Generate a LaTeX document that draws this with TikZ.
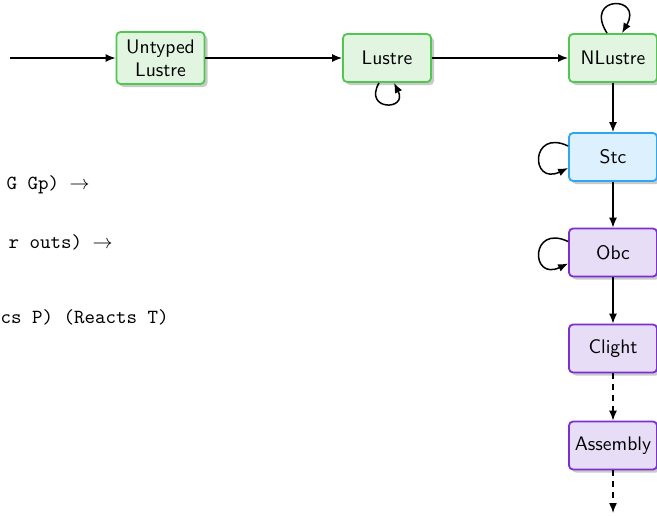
\documentclass[tikz,border=0pt]{standalone}
\usetikzlibrary{arrows.meta,shadows}
\definecolor{gborder}{RGB}{80,200,80}
\definecolor{gfill}{RGB}{225,245,225}
\definecolor{bborder}{RGB}{45,166,245}
\definecolor{bfill}{RGB}{221,240,253}
\definecolor{pborder}{RGB}{123,47,209}
\definecolor{pfill}{RGB}{232,221,247}
\tikzset{
  stagebox/.style={draw, rounded corners=2pt, line width=0.9pt,
    minimum width=44pt, minimum height=24pt, inner sep=2pt,
    align=center, font=\fontsize{9.8}{11.5}\selectfont\sffamily,
    drop shadow={shadow xshift=1.5pt, shadow yshift=-1.5pt, opacity=0.35, fill=black!60}},
  greenbox/.style={stagebox, draw=gborder, fill=gfill},
  bluebox/.style={stagebox, draw=bborder, fill=bfill},
  purplebox/.style={stagebox, draw=pborder, fill=pfill},
  conn/.style={line width=0.75pt, -{Latex[length=5pt,width=4pt]}},
  dconn/.style={conn, dash pattern=on 3pt off 2.5pt},
  codetext/.style={anchor=base east, inner sep=0pt, font=\fontsize{10}{12}\selectfont\ttfamily}
}
\begin{document}
\begin{tikzpicture}[x=0.5pt,y=-0.5pt]
\useasboundingbox (0,0) rectangle (657,515);
\clip (0,0) rectangle (657,515);

\coordinate (in) at (10,58);
\coordinate (out) at (613,513);

\node[greenbox, minimum height=26pt] (ul) at (160.5,58) {Untyped\\Lustre};
\node[greenbox] (lu) at (387,58) {Lustre};
\node[greenbox] (nl) at (613,58) {NLustre};
\node[bluebox] (stc) at (613,157) {Stc};
\node[purplebox] (obc) at (613,252.5) {Obc};
\node[purplebox] (cl) at (613,348.5) {Clight};
\node[purplebox] (as) at (613,445.5) {Assembly};

\node[codetext] (t1) at (90,189) {G Gp) $\to$};
\node[codetext] (t2) at (113,248) {r outs) $\to$};
\node[codetext] (t3) at (169,323) {cs P) (Reacts T)};

\draw[conn] (in) -- (ul);
\draw[conn] (ul) -- (lu);
\draw[conn] (lu) -- (nl);
\draw[conn] (nl) -- (stc);
\draw[conn] (stc) -- (obc);
\draw[conn] (obc) -- (cl);
\draw[dconn] (cl) -- (as);
\draw[dconn] (as) -- (out);

% self loops
\draw[conn] ([xshift=-3pt]nl.north) .. controls +(-24,-38) and +(22,-38) .. ([xshift=4.5pt]nl.north);
\draw[conn] ([xshift=-4pt]lu.south) .. controls +(-16,28) and +(14,28) .. ([xshift=3.5pt]lu.south);
\draw[conn] ([yshift=5.5pt]stc.west) .. controls +(-38,-18) and +(-38,18) .. ([yshift=-5.5pt]stc.west);
\draw[conn] ([yshift=5.5pt]obc.west) .. controls +(-38,-18) and +(-38,18) .. ([yshift=-5.5pt]obc.west);
\end{tikzpicture}
\end{document}
